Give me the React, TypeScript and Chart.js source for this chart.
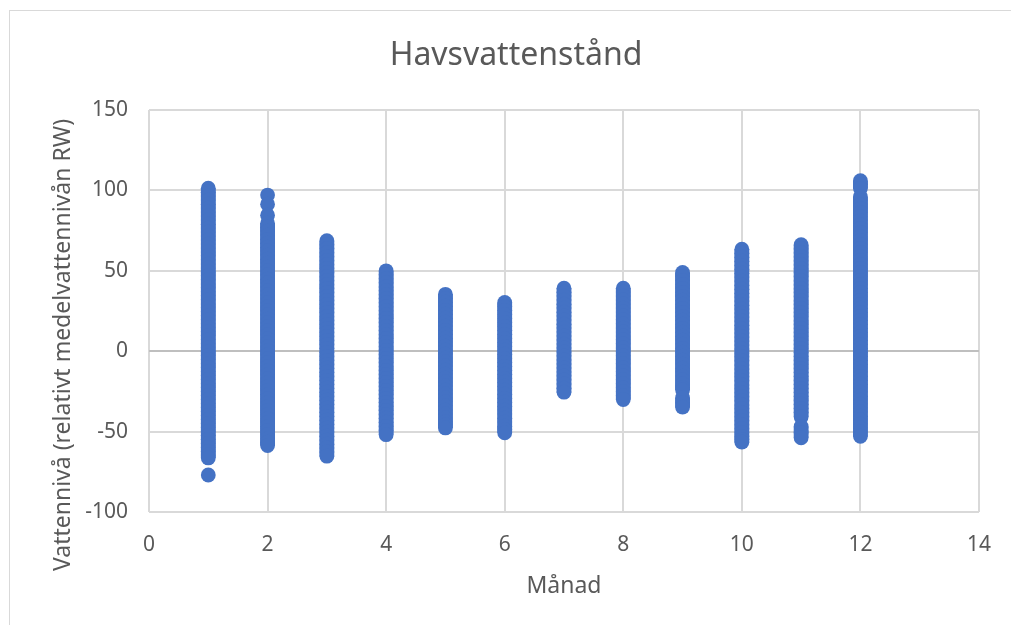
import { useEffect, useRef } from "react";
import { Chart, registerables } from "chart.js";
Chart.register(...registerables);

const months = [1, 2, 3, 4, 5, 6, 7, 8, 9, 10, 11, 12];

const month1 = [101.4, 98.9, 96.5, 94.0, 91.4, 89.0, 86.5, 84.1, 81.6, 79.0, 76.6, 74.1, 71.7, 69.2, 66.6, 64.2, 61.7, 59.3, 56.8, 54.2, 51.8, 49.3, 46.9, 44.4, 41.8, 39.4, 36.9, 34.5, 32.0, 29.4, 27.0, 24.5, 22.1, 19.6, 17.0, 14.6, 12.1, 9.7, 7.2, 4.6, 2.2, -0.3, -2.7, -5.2, -7.8, -10.2, -12.7, -15.1, -17.6, -20.2, -22.6, -25.1, -27.5, -30.0, -32.6, -35.0, -37.5, -39.9, -42.4, -45.0, -47.4, -49.9, -52.3, -54.8, -57.4, -59.8, -62.3, -64.5, -66.4, -77.0];
const month2 = [97.1, 91.4, 84.6, 79.6, 77.1, 74.7, 72.2, 69.6, 67.2, 64.7, 62.3, 59.8, 57.2, 54.8, 52.3, 49.9, 47.4, 44.8, 42.4, 39.9, 37.5, 35.0, 32.4, 30.0, 27.5, 25.1, 22.6, 20.0, 17.6, 15.1, 12.7, 10.2, 7.6, 5.2, 2.7, 0.3, -2.2, -4.8, -7.2, -9.7, -12.1, -14.6, -17.2, -19.6, -22.1, -24.5, -27.0, -29.6, -32.0, -34.5, -36.9, -39.4, -42.0, -44.4, -46.9, -49.3, -51.8, -54.4, -56.6, -58.7];
const month3 = [68.7, 66.2, 63.8, 61.3, 58.7, 56.3, 53.8, 51.4, 48.9, 46.3, 43.9, 41.4, 39.0, 36.5, 33.9, 31.5, 29.0, 26.6, 24.1, 21.5, 19.1, 16.6, 14.2, 11.7, 9.1, 6.7, 4.2, 1.8, -0.7, -3.3, -5.7, -8.2, -10.6, -13.1, -15.7, -18.1, -20.6, -23.0, -25.5, -28.1, -30.5, -33.0, -35.4, -37.9, -40.5, -42.9, -45.4, -47.8, -50.3, -52.9, -55.3, -57.8, -60.2, -62.7, -65.3];
const month4 = [50.0, 47.5, 45.1, 42.6, 40.0, 37.6, 35.1, 32.7, 30.2, 27.6, 25.2, 22.7, 20.3, 17.8, 15.2, 12.8, 10.3, 7.9, 5.4, 2.8, 0.4, -2.1, -4.5, -7.0, -9.6, -12.0, -14.5, -16.9, -19.4, -22.0, -24.4, -26.9, -29.3, -31.8, -34.4, -36.8, -39.3, -41.7, -44.2, -46.8, -49.3, -51.9];
const month5 = [35.4, 32.9, 30.5, 28.0, 25.4, 23.0, 20.5, 18.1, 15.6, 13.0, 10.6, 8.1, 5.7, 3.2, 0.6, -1.8, -4.3, -6.7, -9.2, -11.8, -14.2, -16.7, -19.1, -21.6, -24.2, -26.6, -29.1, -31.5, -34.0, -36.6, -39.0, -41.5, -43.9, -45.8, -47.7];
const month6 = [30.3, 27.8, 25.4, 22.9, 20.3, 17.9, 15.4, 13.0, 10.5, 7.9, 5.5, 3.0, 0.6, -1.9, -4.5, -6.9, -9.4, -11.8, -14.3, -16.9, -19.3, -21.8, -24.2, -26.7, -29.3, -31.7, -34.2, -36.6, -39.1, -41.7, -44.1, -46.6, -48.7, -50.8];
const month7 = [39.2, 36.7, 34.3, 31.8, 29.2, 26.8, 24.3, 21.9, 19.4, 16.8, 14.4, 11.9, 9.5, 7.0, 4.4, 2.0, -0.5, -2.9, -5.4, -8.0, -10.4, -12.9, -15.3, -17.8, -20.4, -23.0, -25.5];
const month8 = [39.2, 36.8, 34.3, 31.9, 29.4, 26.8, 24.4, 21.9, 19.5, 17.0, 14.4, 12.0, 9.5, 7.1, 4.6, 2.0, -0.4, -2.9, -5.3, -7.8, -10.4, -12.8, -15.3, -17.7, -20.2, -22.8, -25.2, -27.7, -30.1];
const month9 = [49.0, 46.5, 44.1, 41.6, 39.0, 36.6, 34.1, 31.7, 29.2, 26.6, 24.2, 21.7, 19.3, 16.8, 14.2, 11.8, 9.3, 6.9, 4.4, 1.8, -0.6, -3.1, -5.5, -8.0, -10.6, -13.0, -15.5, -17.9, -20.4, -22.6, -24.1, -29.0, -32.0, -34.8];
const month10 = [63.4, 60.9, 58.5, 56.0, 53.4, 51.0, 48.5, 46.1, 43.6, 41.0, 38.6, 36.1, 33.7, 31.2, 28.6, 26.2, 23.7, 21.3, 18.8, 16.2, 13.8, 11.3, 8.9, 6.4, 3.8, 1.4, -1.1, -3.5, -6.0, -8.6, -11.0, -13.5, -15.9, -18.4, -21.0, -23.4, -25.9, -28.3, -30.8, -33.4, -35.8, -38.3, -40.7, -43.2, -45.8, -48.2, -50.7, -53.1, -54.9, -56.6];
const month11 = [66.2, 63.7, 61.3, 58.8, 56.2, 53.8, 51.3, 48.9, 46.4, 43.8, 41.4, 38.9, 36.5, 34.0, 31.4, 29.0, 26.5, 24.1, 21.6, 19.0, 16.6, 14.1, 11.7, 9.2, 6.6, 4.2, 1.7, -0.7, -3.2, -5.8, -8.2, -10.7, -13.1, -15.6, -18.2, -20.6, -23.1, -25.5, -28.0, -30.6, -33.0, -35.5, -37.9, -40.9, -46.8, -50.5, -53.9];
const month12 = [106.0, 103.8, 101.2, 96.0, 93.6, 91.1, 88.7, 86.2, 83.6, 81.2, 78.7, 76.3, 73.8, 71.2, 68.8, 66.3, 63.9, 61.4, 58.8, 56.4, 53.9, 51.5, 49.0, 46.4, 44.0, 41.5, 39.1, 36.6, 34.0, 31.6, 29.1, 26.7, 24.2, 21.6, 19.2, 16.7, 14.3, 11.8, 9.2, 6.8, 4.3, 1.9, -0.6, -3.2, -5.6, -8.1, -10.5, -13.0, -15.6, -18.0, -20.5, -22.9, -25.4, -28.0, -30.4, -32.9, -35.3, -37.8, -40.4, -42.8, -45.3, -47.7, -50.2, -52.9];

const seaLevels = [month1, month2, month3, month4, month5, month6, month7, month8, month9, month10, month11, month12];

const xMin = 0;
const xMax = 14;
const xStep = 2;
const yMin = -100;
const yMax = 150;
const yStep = 50;

const titleText = "Havsvattenstånd";
const xTitle = "Månad";
const yTitle = "Vattennivå (relativt medelvattennivån RW)";

const FONT = "'Noto Sans', 'DejaVu Sans', sans-serif";
const TEXT = "#595959";
const BLUE = "#4472C4";
const R = 7.4;

const yTitlePlugin = {
  id: "yTitleCustom",
  afterDraw(chart: any) {
    const { ctx, chartArea } = chart;
    ctx.save();
    ctx.translate(61.5, (chartArea.top + chartArea.bottom) / 2 + 34);
    ctx.rotate(-Math.PI / 2);
    ctx.textAlign = "center";
    ctx.textBaseline = "alphabetic";
    ctx.fillStyle = TEXT;
    ctx.font = `23px ${FONT}`;
    ctx.fillText(yTitle, 0, 0);
    ctx.restore();
  },
};

export default function App() {
  const ref = useRef<HTMLCanvasElement>(null);
  useEffect(() => {
    if (!ref.current) return;
    const datasets = months.map((m, i) => ({
      data: seaLevels[i].map((v) => ({ x: m, y: v })),
      showLine: true,
      borderColor: BLUE,
      borderWidth: R * 2,
      borderCapStyle: "butt" as const,
      backgroundColor: BLUE,
      pointBackgroundColor: BLUE,
      pointBorderColor: BLUE,
      pointBorderWidth: 0,
      pointRadius: R,
      pointHoverRadius: R,
      segment: {
        borderColor: (ctx: any) => (Math.abs(ctx.p0.parsed.y - ctx.p1.parsed.y) > 4.5 ? "rgba(0,0,0,0)" : BLUE),
      },
      yAxisID: "y",
    }));
    const chart = new Chart(ref.current, {
      type: "scatter",
      data: { datasets },
      plugins: [yTitlePlugin],
      options: {
        responsive: false,
        animation: false,
        devicePixelRatio: 1,
        events: [],
        layout: { padding: { left: 13, right: 0, top: 0, bottom: 0 } },
        plugins: {
          legend: { display: false },
          tooltip: { enabled: false },
          title: {
            display: true,
            text: titleText,
            color: TEXT,
            font: { family: FONT, size: 32, weight: "normal" },
            padding: { top: 29, bottom: 34.6 },
          },
        },
        scales: {
          x: {
            type: "linear",
            min: xMin,
            max: xMax,
            ticks: { stepSize: xStep, color: TEXT, font: { family: FONT, size: 21 }, padding: 20 },
            grid: { color: "#d9d9d9", lineWidth: 2, drawTicks: false },
            border: { display: false },
            title: {
              display: true,
              text: xTitle,
              color: TEXT,
              font: { family: FONT, size: 23 },
              padding: { top: 0, bottom: 25 },
            },
            afterFit: (s: any) => {
              s.height = 113;
            },
          },
          y: {
            type: "linear",
            position: "left",
            min: yMin,
            max: yMax,
            ticks: { stepSize: yStep, color: TEXT, font: { family: FONT, size: 21 }, padding: 21 },
            grid: {
              color: (ctx: any) => (ctx.tick && ctx.tick.value === 0 ? "#bfbfbf" : "#d9d9d9"),
              lineWidth: 2,
              drawTicks: false,
            },
            border: { display: false },
            afterFit: (s: any) => {
              s.width = 128;
            },
          },
          yRight: {
            type: "linear",
            position: "right",
            min: yMin,
            max: yMax,
            ticks: { display: false },
            grid: { display: false, drawTicks: false },
            border: { display: false },
            afterFit: (s: any) => {
              s.width = 26;
            },
          },
        },
      },
    });
    return () => chart.destroy();
  }, []);

  return (
    <div style={{ position: "fixed", left: 0, top: 0, width: 1011, height: 625, overflow: "hidden", background: "#ffffff" }}>
      <div style={{ position: "absolute", left: 9, top: 10, width: 1100, height: 700, border: "1px solid #d9d9d9" }} />
      <canvas ref={ref} width={1003} height={617} style={{ position: "absolute", left: 8, top: 8, width: 1003, height: 617 }} />
    </div>
  );
}
